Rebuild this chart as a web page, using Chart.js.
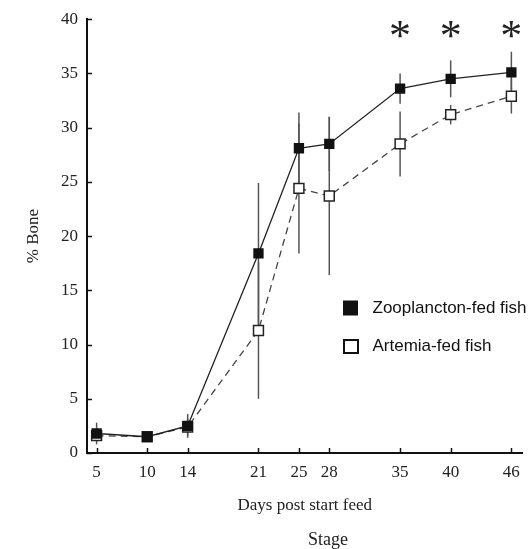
<!DOCTYPE html>
<html>
<head>
<meta charset="utf-8">
<script src="https://cdn.jsdelivr.net/npm/chart.js@4.4.1/dist/chart.umd.min.js"></script>
<style>
  html, body { margin: 0; padding: 0; background: #fff; }
  #wrap { width: 531px; height: 549px; position: relative; }
</style>
</head>
<body>
<div id="wrap"><canvas id="boneChart"></canvas></div>
<script>
// values
const days = [5, 10, 14, 21, 25, 28, 35, 40, 46];
const zooValues = [1.8, 1.5, 2.5, 18.4, 28.1, 28.5, 33.6, 34.5, 35.1];
const zooErrors = [1.0, 0.4, 1.1, 6.5, 3.3, 2.5, 1.4, 1.7, 1.9];
const artValues = [1.6, 1.5, 2.4, 11.3, 24.4, 23.7, 28.5, 31.2, 32.9];
const artErrors = [0.4, 0.3, 0.8, 6.3, 6.0, 7.3, 3.0, 0.9, 1.6];
const yTicks = [0, 5, 10, 15, 20, 25, 30, 35, 40];
const starDays = [35, 40, 46];
const starLevel = 38.9;

const serif = "'Liberation Serif', 'Times New Roman', serif";
const sans = "'Liberation Sans', Arial, sans-serif";

const errorBars = {
    id: 'errorBars',
    beforeDatasetsDraw(chart) {
        const { ctx, scales: { x, y } } = chart;
        ctx.save();
        chart.data.datasets.forEach(ds => {
            ctx.strokeStyle = '#555';
            ctx.lineWidth = 1.5;
            ds.data.forEach((p, i) => {
                const e = ds.errors[i];
                const px = x.getPixelForValue(p.x);
                ctx.beginPath();
                ctx.moveTo(px, y.getPixelForValue(p.y - e));
                ctx.lineTo(px, y.getPixelForValue(p.y + e));
                ctx.stroke();
            });
        });
        ctx.restore();
    }
};

const extras = {
    id: 'extras',
    afterDraw(chart) {
        const { ctx, chartArea, scales: { x, y } } = chart;
        ctx.save();
        // inward tick marks
        ctx.strokeStyle = '#111';
        ctx.lineWidth = 1.5;
        yTicks.forEach(v => {
            const py = Math.round(y.getPixelForValue(v)) + 0.5;
            ctx.beginPath();
            ctx.moveTo(chartArea.left, py);
            ctx.lineTo(chartArea.left + 5, py);
            ctx.stroke();
        });
        days.forEach(d => {
            const px = Math.round(x.getPixelForValue(d)) + 0.5;
            ctx.beginPath();
            ctx.moveTo(px, chartArea.bottom);
            ctx.lineTo(px, chartArea.bottom - 5);
            ctx.stroke();
        });

        // significance stars
        ctx.fillStyle = '#222';
        ctx.font = '44px ' + serif;
        ctx.textAlign = 'center';
        ctx.textBaseline = 'middle';
        starDays.forEach(d => {
            ctx.fillText('*', x.getPixelForValue(d), y.getPixelForValue(starLevel) + 7);
        });

        // second x caption
        ctx.font = '18px ' + serif;
        ctx.fillText('Stage', 328, 540);

        // legend
        ctx.textAlign = 'left';
        ctx.textBaseline = 'alphabetic';
        ctx.font = '17px ' + sans;
        chart.data.datasets.forEach((ds, i) => {
            const top = 301.5 + i * 38.5;
            if (ds.pointBackgroundColor === '#fff') {
                ctx.fillStyle = '#fff';
                ctx.fillRect(344, top, 14, 13);
                ctx.strokeStyle = '#111';
                ctx.lineWidth = 2;
                ctx.strokeRect(344, top, 14, 13);
            } else {
                ctx.fillStyle = '#111';
                ctx.fillRect(343, top - 1, 15, 15);
            }
            ctx.fillStyle = '#111';
            ctx.fillText(ds.label, 372.5, top + 11);
        });
        ctx.restore();
    }
};

const ctx = document.getElementById('boneChart').getContext('2d');
new Chart(ctx, {
    type: 'line',
    data: {
        datasets: [
            {
                label: 'Zooplancton-fed fish',
                data: days.map((d, i) => ({ x: d, y: zooValues[i] })),
                errors: zooErrors,
                order: 0,
                borderColor: '#222',
                borderWidth: 1.3,
                pointStyle: 'rect',
                pointRadius: 7.3,
                pointBorderWidth: 0,
                pointBorderColor: '#111',
                pointBackgroundColor: '#111',
                tension: 0
            },
            {
                label: 'Artemia-fed fish',
                data: days.map((d, i) => ({ x: d, y: artValues[i] })),
                errors: artErrors,
                order: 1,
                borderColor: '#444',
                borderWidth: 1.3,
                borderDash: [7, 5],
                pointStyle: 'rect',
                pointRadius: 7,
                pointBorderWidth: 1.5,
                pointBorderColor: '#222',
                pointBackgroundColor: '#fff',
                tension: 0
            }
        ]
    },
    options: {
        responsive: true,
        maintainAspectRatio: false,
        animation: false,
        layout: { padding: { top: 14, right: 2, bottom: 0, left: 0 } },
        plugins: {
            legend: { display: false },
            tooltip: { enabled: false }
        },
        scales: {
            x: {
                type: 'linear',
                min: 4.05,
                max: 47.1,
                afterBuildTicks: scale => { scale.ticks = days.map(v => ({ value: v })); },
                afterFit: scale => { scale.height = 96; },
                grid: { display: false, drawTicks: false },
                border: { display: true, color: '#111', width: 2 },
                ticks: {
                    padding: 9,
                    color: '#222',
                    font: { family: serif, size: 17 },
                    maxRotation: 0,
                    autoSkip: false
                },
                title: {
                    display: true,
                    text: 'Days post start feed',
                    color: '#222',
                    font: { family: serif, size: 17 },
                    padding: { top: 0, bottom: 33 }
                }
            },
            y: {
                min: 0,
                max: 40,
                afterBuildTicks: scale => { scale.ticks = yTicks.map(v => ({ value: v })); },
                afterFit: scale => { scale.width = 87; },
                grid: { display: false, drawTicks: false },
                border: { display: true, color: '#111', width: 2 },
                ticks: {
                    padding: 9,
                    color: '#222',
                    font: { family: serif, size: 17 }
                },
                title: {
                    display: true,
                    text: '% Bone',
                    color: '#222',
                    font: { family: serif, size: 17 },
                    padding: { top: 23, bottom: 0 }
                }
            }
        }
    },
    plugins: [errorBars, extras]
});
</script>
</body>
</html>
